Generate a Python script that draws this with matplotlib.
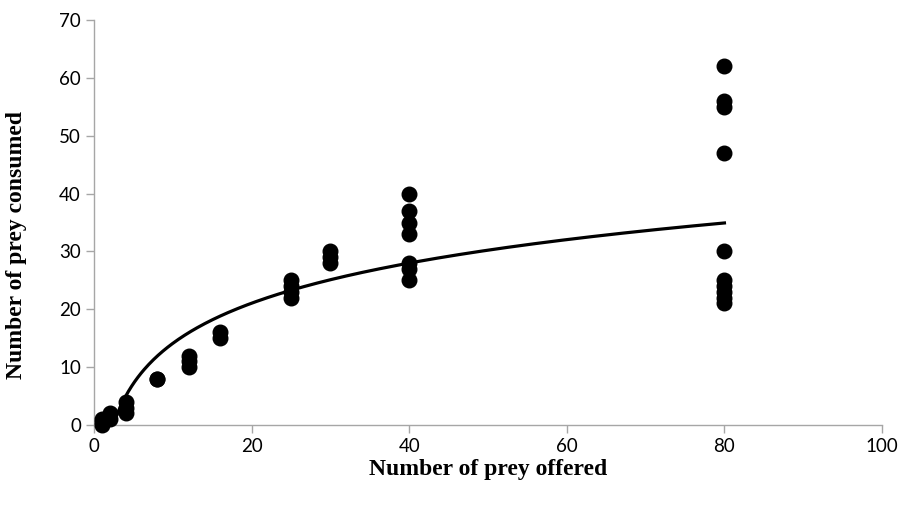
import numpy as np
import matplotlib.pyplot as plt

# prey offered (x) and prey consumed (y)
offered = [1, 1, 1, 2, 2, 4, 4, 4, 8, 8,
           12, 12, 12, 16, 16,
           25, 25, 25, 25, 30, 30, 30,
           40, 40, 40, 40, 40, 40, 40,
           80, 80, 80, 80, 80, 80, 80, 80, 80, 80]
consumed = [0, 0.5, 1, 1, 2, 2, 3, 4, 8, 8,
            10, 11, 12, 15, 16,
            22, 23, 24, 25, 28, 29, 30,
            25, 27, 28, 33, 35, 37, 40,
            21, 22, 23, 24, 25, 30, 47, 55, 56, 62]

# logarithmic trendline y = a*ln(x) + b
trend_a = 10.0
trend_b = -8.9

x_ticks = [0, 20, 40, 60, 80, 100]
y_ticks = [0, 10, 20, 30, 40, 50, 60, 70]

fig = plt.figure(figsize=(9.05, 5.08), dpi=100)
ax = fig.add_axes([0.104, 0.1634, 0.8706, 0.7972])

ax.scatter(offered, consumed, s=110, color="black", zorder=3, clip_on=False)

xs = np.linspace(min(offered), max(offered), 400)
ax.plot(xs, trend_a * np.log(xs) + trend_b, color="black", lw=2.3, zorder=2)

ax.set_xlim(0, 100)
ax.set_ylim(0, 70)
ax.set_xticks(x_ticks)
ax.set_yticks(y_ticks)

for side in ["top", "right"]:
    ax.spines[side].set_visible(False)
for side in ["left", "bottom"]:
    ax.spines[side].set_color("#a6a6a6")
    ax.spines[side].set_linewidth(1)
ax.tick_params(direction="out", length=6, width=1, color="#a6a6a6",
               labelsize=13.5, labelcolor="black")
for lab in ax.get_xticklabels() + ax.get_yticklabels():
    lab.set_fontfamily("Lato")

ax.set_xlabel("Number of prey offered", fontfamily="Liberation Serif",
              fontweight="bold", fontsize=17, labelpad=3)
ax.set_ylabel("Number of prey consumed", fontfamily="Liberation Serif",
              fontweight="bold", fontsize=17)
ax.yaxis.set_label_coords(-0.085, 0.445)

plt.savefig("out.png", dpi=100)
